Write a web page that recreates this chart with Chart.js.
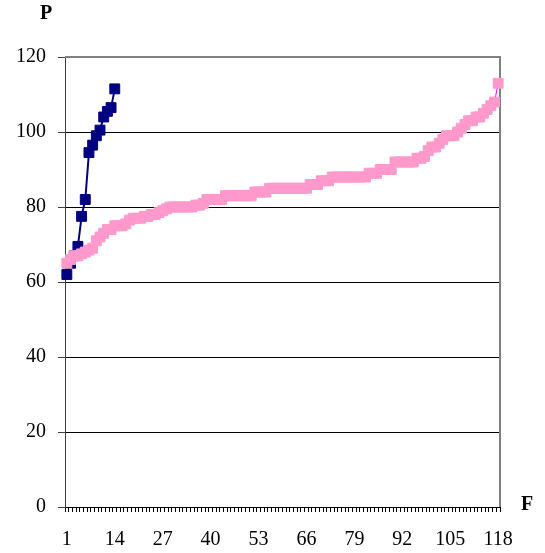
<!DOCTYPE html>
<html>
<head>
<meta charset="utf-8">
<script src="https://cdn.jsdelivr.net/npm/chart.js@4"></script>
<style>
  body { margin: 0; background: #fff; }
  #wrap { width: 545px; height: 553px; }
</style>
</head>
<body>
<div id="wrap"><canvas id="chart" width="545" height="553"></canvas></div>
<script>
// Category labels 1..118 on the F axis
const categories = Array.from({ length: 118 }, (_, i) => String(i + 1));

// Dark blue series (first 14 categories)
const blueValues = [62, 65, 67, 69.5, 77.5, 82, 94.5, 96.5, 99, 100.5, 104, 105.5, 106.5, 111.5];

// Pink series, sorted ascending
const pinkValues = [
  65, 66, 67, 67, 67.5, 68, 68.5, 69, 71, 72,
  73, 74, 74, 75, 75, 75, 75.5, 76.5, 77, 77,
  77, 77.5, 77.5, 78, 78, 78.5, 79, 79.5, 80, 80,
  80, 80, 80, 80, 80, 80.5, 80.5, 81, 82, 82,
  82, 82, 82, 83, 83, 83, 83, 83, 83, 83,
  83, 84, 84, 84, 84, 85, 85, 85, 85, 85,
  85, 85, 85, 85, 85, 85, 86, 86, 86, 87,
  87, 87, 88, 88, 88, 88, 88, 88, 88, 88,
  88, 88, 89, 89, 89, 90, 90, 90, 90, 92,
  92, 92, 92, 92, 92, 93, 93, 93.5, 95, 96,
  96, 97, 98, 99, 99, 99, 100, 101, 102, 103,
  103, 104, 104, 105, 106, 107, 108, 113
];

const yTicks = [0, 20, 40, 60, 80, 100, 120];

const serif = '"Liberation Serif", "Times New Roman", serif';

// Gray frame on top and right of the plot area, plus axis letters
const framePlugin = {
  id: 'frame',
  beforeDatasetsDraw(chart) {
    const { ctx, chartArea } = chart;
    ctx.save();
    ctx.strokeStyle = '#808080';
    ctx.lineWidth = 2;
    ctx.beginPath();
    ctx.moveTo(chartArea.left, chartArea.top);
    ctx.lineTo(chartArea.right, chartArea.top);
    ctx.lineTo(chartArea.right, chartArea.bottom);
    ctx.stroke();
    ctx.restore();
  },
  afterDraw(chart) {
    const { ctx, chartArea } = chart;
    ctx.save();
    ctx.fillStyle = '#000';
    ctx.font = 'bold 20px ' + serif;
    ctx.textAlign = 'center';
    ctx.textBaseline = 'middle';
    ctx.fillText('P', chartArea.left - 19, chartArea.top - 43);
    ctx.fillText('F', chartArea.right + 27, chartArea.bottom - 2);
    ctx.restore();
  }
};

new Chart(document.getElementById('chart'), {
  type: 'line',
  data: {
    labels: categories,
    datasets: [
      {
        label: 'pink',
        data: pinkValues,
        borderColor: '#FF00FF',
        borderWidth: 1,
        pointStyle: 'rect',
        pointRadius: 7,
        pointBackgroundColor: '#FF99CC',
        pointBorderColor: '#FF99CC',
        pointBorderWidth: 1,
        tension: 0,
        clip: false,
        order: 0
      },
      {
        label: 'blue',
        data: blueValues,
        borderColor: '#000080',
        borderWidth: 2,
        pointStyle: 'rect',
        pointRadius: 7,
        pointBackgroundColor: '#000080',
        pointBorderColor: '#000080',
        pointBorderWidth: 1,
        tension: 0,
        clip: false,
        order: 1
      }
    ]
  },
  options: {
    responsive: false,
    animation: false,
    layout: { padding: { top: 57, right: 45, bottom: 0, left: 0 } },
    plugins: {
      legend: { display: false },
      tooltip: { enabled: false }
    },
    scales: {
      x: {
        offset: true,
        grid: {
          offset: true,
          drawOnChartArea: false,
          drawTicks: true,
          tickLength: 5,
          color: '#000'
        },
        border: { display: true, color: '#000', width: 1 },
        ticks: {
          autoSkip: false,
          maxRotation: 0,
          minRotation: 0,
          padding: 16,
          color: '#000',
          font: { family: serif, size: 20 },
          callback: (val, idx) => (idx % 13 === 0 ? categories[idx] : '')
        },
        afterFit(scale) { scale.height = 46; }
      },
      y: {
        min: 0,
        max: 120,
        afterBuildTicks(scale) { scale.ticks = yTicks.map(v => ({ value: v })); },
        grid: {
          color: ctx => (ctx.tick && ctx.tick.value === 120 ? '#808080' : '#000'),
          lineWidth: 1,
          drawTicks: true,
          tickLength: 7,
          tickColor: '#404040'
        },
        border: { display: true, color: '#404040', width: 1 },
        ticks: {
          padding: 12,
          color: '#000',
          font: { family: serif, size: 20 }
        },
        afterFit(scale) { scale.width = 65; }
      }
    }
  },
  plugins: [framePlugin]
});
</script>
</body>
</html>
